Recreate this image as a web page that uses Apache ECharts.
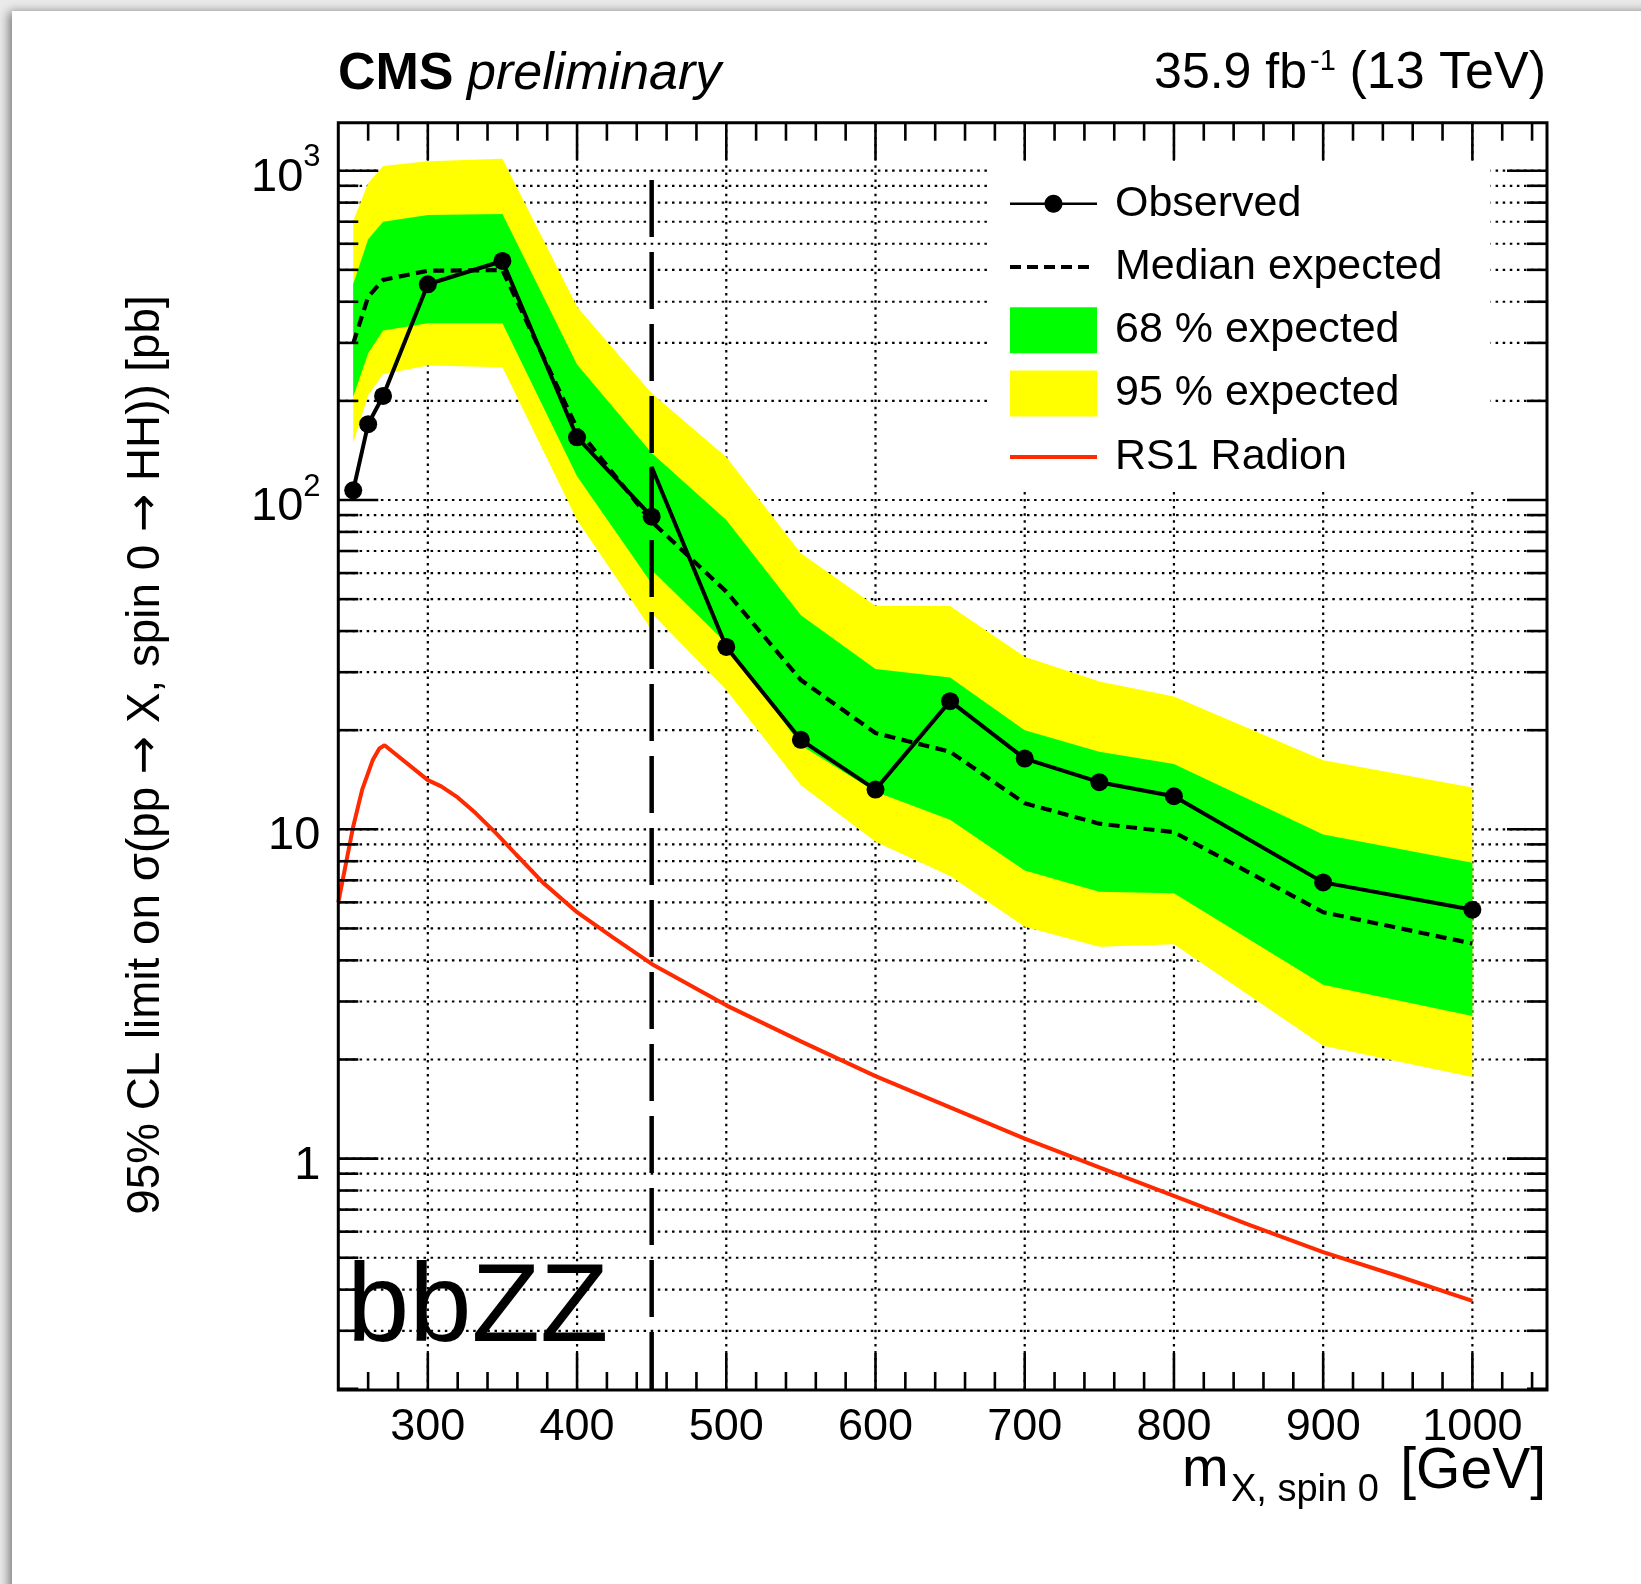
<!DOCTYPE html>
<html>
<head>
<meta charset="utf-8">
<title>bbZZ spin-0 limits</title>
<script src="https://cdn.jsdelivr.net/npm/echarts@6/dist/echarts.min.js"></script>
<style>
  html, body { margin: 0; padding: 0; width: 1641px; height: 1584px; overflow: hidden; background: #ebebeb; }
  #sheet { position: absolute; left: 12px; top: 11px; width: 1700px; height: 1650px; background: #fff;
           box-shadow: -3px 1px 10px rgba(0,0,0,0.5); }
  #chart { position: absolute; left: 0; top: 0; width: 1641px; height: 1584px; }
</style>
</head>
<body>
<div id="sheet"></div>
<div id="chart"></div>
<script>
// ---- observed limit (pb) vs resonance mass (GeV); 450 GeV appears twice (low / high mass analysis)
const obsMass  = [250, 260, 270, 300, 350, 400, 450, 450, 500, 550, 600, 650, 700, 750, 800, 900, 1000];
const obsLimit = [107, 170, 207, 452, 532, 155, 89, 126, 35.8, 18.7, 13.2, 24.5, 16.4, 13.9, 12.6, 6.9, 5.7];
const obsNoMarker = [false, false, false, false, false, false, false, true, false, false, false, false, false, false, false, false, false];

// ---- expected limits (pb)
const expMass   = [250, 260, 270, 300, 350, 400, 450, 450, 500, 550, 600, 650, 700, 750, 800, 900, 1000];
const expMedian = [299, 414, 466, 497, 499, 165, 86, 86, 52.7, 28.4, 19.6, 17.2, 12.0, 10.4, 9.8, 5.6, 4.5];
const exp68Up   = [453, 619, 700, 734, 739, 258, 139, 139, 87, 44.7, 30.7, 28.9, 20.0, 17.2, 15.8, 9.65, 7.92];
const exp68Down = [206, 279, 327, 344, 344, 118, 55.8, 61.3, 36.7, 18.0, 13.0, 10.7, 7.5, 6.46, 6.4, 3.37, 2.71];
const exp95Up   = [705, 916, 1033, 1069, 1087, 386, 211, 211, 135, 68.9, 47.7, 47.7, 33.4, 28.1, 25.3, 16.2, 13.4];
const exp95Down = [149, 208, 241, 256, 253, 87, 40.3, 45.3, 26.5, 13.6, 9.17, 7.21, 5.06, 4.40, 4.48, 2.20, 1.77];

// ---- RS1 radion cross section (pb)
const radionMass = [240, 250, 256, 263, 267.5, 271, 300, 309, 320, 332, 346, 359, 377, 400, 424, 450,
                    500, 550, 600, 650, 700, 750, 800, 850, 900, 950, 1000];
const radionXsec = [6.0, 10.2, 13.2, 16.2, 17.6, 18.0, 14.1, 13.5, 12.5, 11.2, 9.7, 8.4, 6.9, 5.6, 4.7, 3.9,
                    2.92, 2.27, 1.78, 1.43, 1.15, 0.94, 0.77, 0.63, 0.52, 0.44, 0.37];

// ---- low/high mass analysis boundary
const boundaryMass = 450;
const boundaryTop = 937;

// ---- axes
const X_MIN = 240, X_MAX = 1050;
const Y_MIN = 0.1983, Y_MAX = 1399;
const xMajorTicks = [300, 400, 500, 600, 700, 800, 900, 1000];
const xTickLabels = ['300', '400', '500', '600', '700', '800', '900', '1000'];
const yMajorTicks = [1, 10, 100, 1000];
const yLabelBase = ['1', '10', '10', '10'];
const yLabelExp  = ['', '', '2', '3'];

const xMinorTicks = [];
for (let v = 260; v <= 1040; v += 20) if (v % 100 !== 0) xMinorTicks.push(v);
const yMinorTicks = [];
[0.1, 1, 10, 100, 1000].forEach(d => {
  for (let k = 2; k <= 9; k++) { const v = k * d; if (v > Y_MIN && v < Y_MAX) yMinorTicks.push(+v.toPrecision(3)); }
});
const yGridValues = yMajorTicks.concat(yMinorTicks);

const FONT = '"Liberation Sans", Arial, Helvetica, sans-serif';

// ---- legend icons, drawn in a 100 x 46 box (tiny corner marks fix the bounding box)
const CORNERS = ' M0 0 L0.01 0 L0 0.01 Z M100 46 L99.99 46 L100 45.99 Z';
const ICON_OBS = 'path://M0 21.8 L87 21.8 L87 24.4 L0 24.4 Z ' +
  'M34.5 23.1 C34.5 18.13 38.53 14.1 43.5 14.1 C48.47 14.1 52.5 18.13 52.5 23.1 ' +
  'C52.5 28.07 48.47 32.1 43.5 32.1 C38.53 32.1 34.5 28.07 34.5 23.1 Z' + CORNERS;
const ICON_MED = 'path://M0 21 L11 21 L11 25 L0 25 Z M17 21 L28 21 L28 25 L17 25 Z M34 21 L45 21 L45 25 L34 25 Z ' +
  'M51 21 L62 21 L62 25 L51 25 Z M68 21 L79 21 L79 25 L68 25 Z' + CORNERS;
const ICON_BOX = 'path://M0 0 L87 0 L87 46 L0 46 Z' + CORNERS;
const ICON_LINE = 'path://M0 21 L87 21 L87 25 L0 25 Z' + CORNERS;

function pairs(xs, ys) { return xs.map((x, i) => [x, ys[i]]); }

function bandRenderer(lo, hi, color) {
  return function (params, api) {
    if (params.dataIndex !== 0) return null;
    const pts = [];
    for (let i = 0; i < expMass.length; i++) pts.push(api.coord([expMass[i], hi[i]]));
    for (let i = expMass.length - 1; i >= 0; i--) pts.push(api.coord([expMass[i], lo[i]]));
    return { type: 'polygon', shape: { points: pts }, style: { fill: color } };
  };
}

function renderGridLines(params, api) {
  if (params.dataIndex !== 0) return null;
  const cs = params.coordSys;
  const L = cs.x, T = cs.y, R = cs.x + cs.width, B = cs.y + cs.height;
  const dot = { stroke: '#000', lineWidth: 2.2, lineDash: [2.5, 4.6] };
  const els = [];
  xMajorTicks.forEach(v => {
    const x = api.coord([v, Y_MIN])[0];
    els.push({ type: 'line', shape: { x1: x, y1: T, x2: x, y2: B }, style: dot });
  });
  yGridValues.forEach(v => {
    const y = api.coord([X_MIN, v])[1];
    if (y < T + 2 || y > B - 2) return;
    els.push({ type: 'line', shape: { x1: L, y1: y, x2: R, y2: y }, style: dot });
  });
  return { type: 'group', children: els };
}

function renderFrame(params, api) {
  if (params.dataIndex !== 0) return null;
  const cs = params.coordSys;
  const L = cs.x, T = cs.y, R = cs.x + cs.width, B = cs.y + cs.height;
  const tick = { stroke: '#000', lineWidth: 2.6 };
  const els = [];
  const seg = (x1, y1, x2, y2) => els.push({ type: 'line', shape: { x1, y1, x2, y2 }, style: tick });
  xMajorTicks.forEach(v => { const x = api.coord([v, Y_MIN])[0]; seg(x, B, x, B - 37); seg(x, T, x, T + 37); });
  xMinorTicks.forEach(v => { const x = api.coord([v, Y_MIN])[0]; seg(x, B, x, B - 18); seg(x, T, x, T + 18); });
  yMajorTicks.forEach(v => { const y = api.coord([X_MIN, v])[1]; seg(L, y, L + 40, y); seg(R, y, R - 40, y); });
  yMinorTicks.forEach(v => { const y = api.coord([X_MIN, v])[1]; seg(L, y, L + 20, y); seg(R, y, R - 20, y); });
  els.push({ type: 'rect', shape: { x: L, y: T, width: R - L, height: B - T },
             style: { fill: 'none', stroke: '#000', lineWidth: 3 } });
  // y tick labels: 1, 10, 10^2, 10^3
  yMajorTicks.forEach((v, i) => {
    const y = api.coord([X_MIN, v])[1];
    const right = L - 18;
    const hasExp = yLabelExp[i] !== '';
    const supW = hasExp ? 17 : 0;
    els.push({ type: 'text', x: right - supW, y: y + 7,
      style: { text: yLabelBase[i], fontSize: 47, fontFamily: FONT, fill: '#000',
               align: 'right', textAlign: 'right', verticalAlign: 'middle', textVerticalAlign: 'middle' } });
    if (hasExp) {
      els.push({ type: 'text', x: right - supW, y: y - 13,
        style: { text: yLabelExp[i], fontSize: 31, fontFamily: FONT, fill: '#000',
                 align: 'left', textAlign: 'left', verticalAlign: 'middle', textVerticalAlign: 'middle' } });
    }
  });
  return { type: 'group', children: els };
}

function txt(x, y, text, size, opts) {
  opts = opts || {};
  const el = {
    type: 'text', x: x, y: y, rotation: opts.rotation || 0, z: 20,
    style: {
      text: text, fontSize: size, fontFamily: FONT, fill: '#000',
      fontWeight: opts.weight || 'normal', fontStyle: opts.style || 'normal',
      align: opts.align || 'left', textAlign: opts.align || 'left',
      verticalAlign: 'middle', textVerticalAlign: 'middle'
    }
  };
  if (opts.rich) el.style.rich = opts.rich;
  return el;
}

const chart = echarts.init(document.getElementById('chart'), null, { renderer: 'canvas' });

chart.setOption({
  animation: false,
  backgroundColor: 'transparent',
  textStyle: { fontFamily: FONT },
  grid: { left: 338.3, top: 122.7, width: 1208.7, height: 1267.3, containLabel: false, outerBoundsMode: 'none' },
  xAxis: {
    type: 'value', min: X_MIN, max: X_MAX,
    axisLine: { show: false }, axisTick: { show: false }, splitLine: { show: false },
    axisLabel: {
      customValues: xMajorTicks,
      formatter: v => xTickLabels[xMajorTicks.indexOf(v)] || String(v),
      fontSize: 45, fontFamily: FONT, color: '#000', margin: 38, verticalAlign: 'middle'
    }
  },
  yAxis: {
    type: 'log', logBase: 10, min: Y_MIN, max: Y_MAX,
    axisLine: { show: false }, axisTick: { show: false }, axisLabel: { show: false }, splitLine: { show: false }
  },
  legend: {
    orient: 'vertical', left: 990, top: 164, padding: [16.7, 48, 10, 20],
    backgroundColor: '#fff', itemWidth: 100, itemHeight: 46, itemGap: 17.3,
    selectedMode: false, z: 6,
    itemStyle: { borderWidth: 0 },
    textStyle: { fontSize: 43, fontFamily: FONT, color: '#000', lineHeight: 46 },
    data: [
      { name: 'Observed', icon: ICON_OBS },
      { name: 'Median expected', icon: ICON_MED },
      { name: '68 % expected', icon: ICON_BOX },
      { name: '95 % expected', icon: ICON_BOX },
      { name: 'RS1 Radion', icon: ICON_LINE }
    ]
  },
  graphic: [
    txt(338, 74.5, 'CMS', 52, { weight: 'bold' }),
    txt(467, 74.5, 'preliminary', 52, { style: 'italic' }),
    txt(1307, 74, '35.9 fb', 50, { align: 'right' }),
    txt(1310, 62, '-1', 29),
    txt(1546, 74, '(13 TeV)', 52, { align: 'right' }),
    txt(347, 1310, 'bbZZ', 112),
    txt(1182, 1471, 'm', 56),
    txt(1231, 1491, 'X, spin 0', 38),
    txt(1546, 1472, '[GeV]', 57, { align: 'right' }),
    txt(146.4, 755, '95% CL limit on σ(pp {a|→} X, spin 0 {a|→} HH)) [pb]', 45.8, {
      align: 'center', rotation: Math.PI / 2,
      rich: { a: { fontSize: 45.8, fontFamily: '"DejaVu Sans", sans-serif', fill: '#000' } }
    })
  ],
  series: [
    {
      name: 'grid lines', type: 'custom', renderItem: renderGridLines, data: [[X_MIN, Y_MIN]],
      z: 1, silent: true, clip: false
    },
    {
      name: '95 % expected', type: 'custom', renderItem: bandRenderer(exp95Down, exp95Up, '#ffff00'),
      data: expMass.map((m, i) => [m, exp95Down[i], exp95Up[i]]), encode: { x: 0, y: [1, 2] },
      itemStyle: { color: '#ffff00' }, z: 2, silent: true
    },
    {
      name: '68 % expected', type: 'custom', renderItem: bandRenderer(exp68Down, exp68Up, '#00ff00'),
      data: expMass.map((m, i) => [m, exp68Down[i], exp68Up[i]]), encode: { x: 0, y: [1, 2] },
      itemStyle: { color: '#00ff00' }, z: 3, silent: true
    },
    {
      name: 'Median expected', type: 'line', data: pairs(expMass, expMedian), symbol: 'none',
      color: '#000', itemStyle: { color: '#000' },
      lineStyle: { color: '#000', width: 4.2, type: [11, 6.5] }, z: 4, silent: true
    },
    {
      name: 'RS1 Radion', type: 'line', data: pairs(radionMass, radionXsec), symbol: 'none',
      color: '#ff2a00', itemStyle: { color: '#ff2a00' },
      lineStyle: { color: '#ff2a00', width: 4 }, z: 4, silent: true
    },
    {
      name: 'analysis boundary', type: 'line', data: [[boundaryMass, boundaryTop], [boundaryMass, Y_MIN]],
      symbol: 'none', lineStyle: { color: '#000', width: 4.5, type: [57, 15] }, z: 4, silent: true
    },
    {
      name: 'Observed', type: 'line', symbol: 'circle', symbolSize: 18,
      data: obsMass.map((m, i) => obsNoMarker[i] ? { value: [m, obsLimit[i]], symbol: 'none' } : [m, obsLimit[i]]),
      color: '#000', itemStyle: { color: '#000' },
      lineStyle: { color: '#000', width: 4 }, z: 5, silent: true
    },
    {
      name: 'frame', type: 'custom', renderItem: renderFrame, data: [[X_MIN, Y_MIN]],
      z: 7, silent: true, clip: false
    }
  ]
});
</script>
</body>
</html>
